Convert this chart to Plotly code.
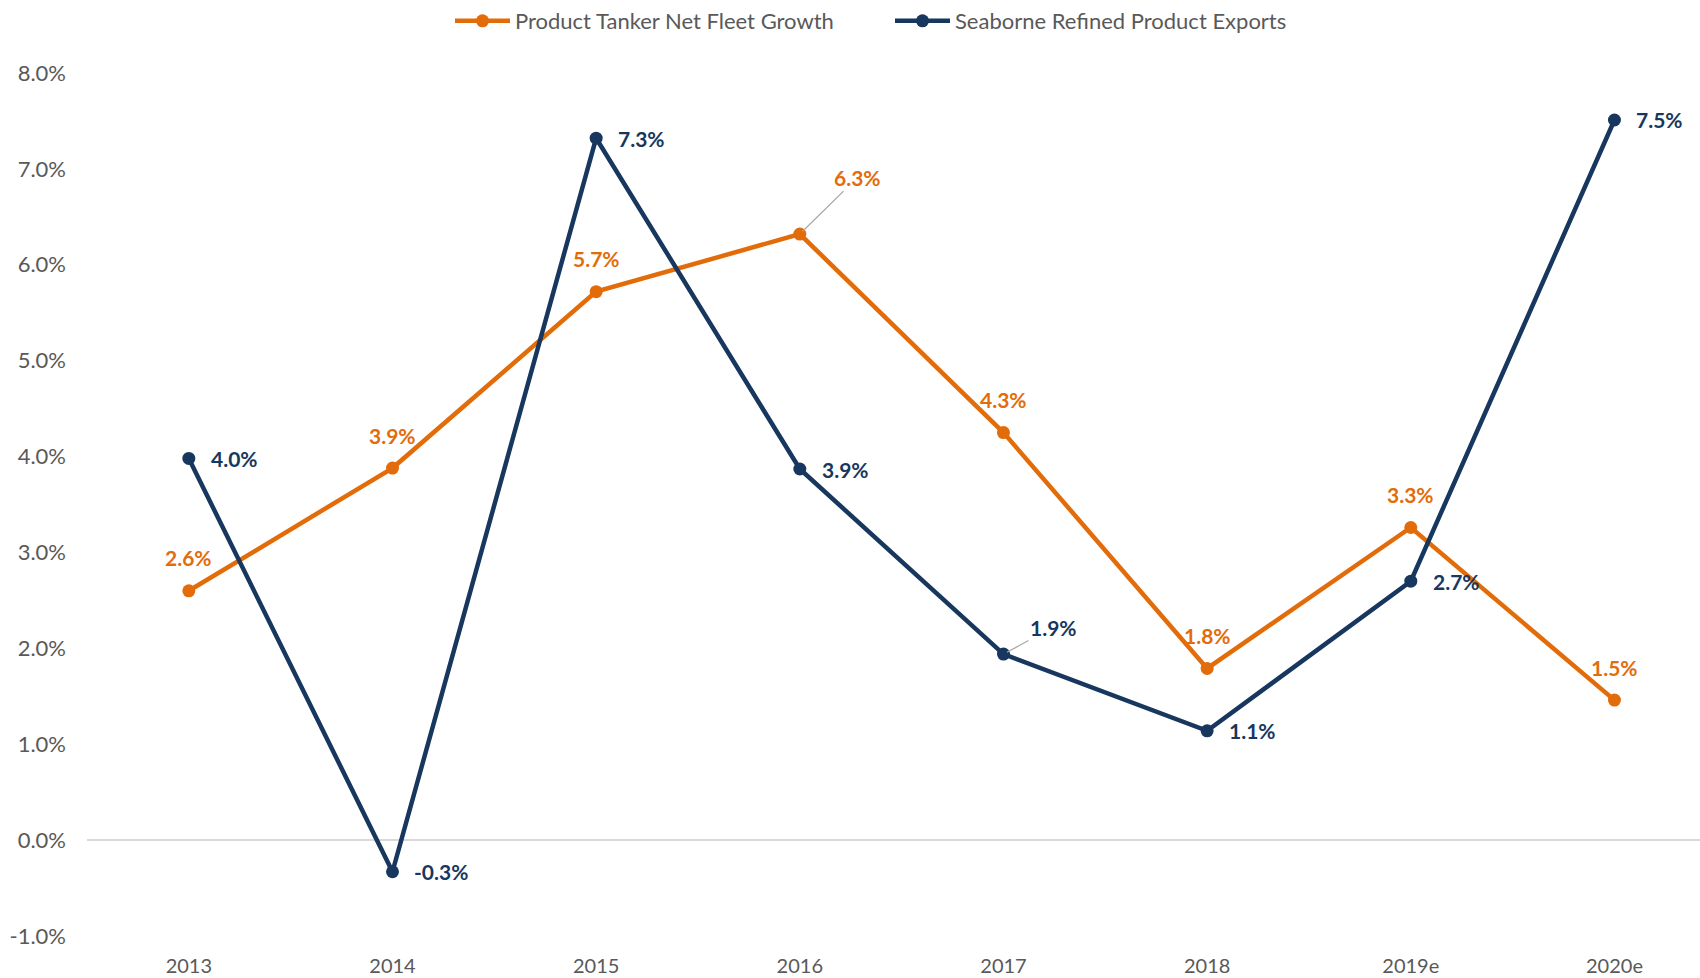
import plotly.graph_objects as go

years = ["2013", "2014", "2015", "2016", "2017", "2018", "2019e", "2020e"]
fleet_growth = [0.026, 0.039, 0.057, 0.063, 0.043, 0.018, 0.033, 0.015]
exports = [0.040, -0.003, 0.073, 0.039, 0.019, 0.011, 0.027, 0.075]
fleet_plot = [0.0260, 0.0388, 0.0572, 0.0632, 0.0425, 0.0179, 0.0326, 0.0146]
exports_plot = [0.0398, -0.0033, 0.0732, 0.0387, 0.0194, 0.0114, 0.0270, 0.0751]
y_tick_vals = [-0.01, 0.0, 0.01, 0.02, 0.03, 0.04, 0.05, 0.06, 0.07, 0.08]
y_tick_text = ["-1.0%", "0.0%", "1.0%", "2.0%", "3.0%", "4.0%", "5.0%", "6.0%", "7.0%", "8.0%"]

ORANGE = "#E36C0A"
NAVY = "#17375E"
FONT = "Lato, 'Open Sans', sans-serif"
LBL = 21

fig = go.Figure()
fig.add_trace(go.Scatter(
    x=list(range(len(years))), y=fleet_plot, mode="lines+markers",
    name="Product Tanker Net Fleet Growth",
    line=dict(color=ORANGE, width=4.5), marker=dict(size=13, color=ORANGE),
))
fig.add_trace(go.Scatter(
    x=list(range(len(years))), y=exports_plot, mode="lines+markers",
    name="Seaborne Refined Product Exports",
    line=dict(color=NAVY, width=4.5), marker=dict(size=13, color=NAVY),
))

annotations = []
for i, (v, yv) in enumerate(zip(fleet_growth, fleet_plot)):
    txt = f"{v*100:.1f}%"
    if i == 3:
        annotations.append(dict(x=i, y=yv, text=txt, showarrow=True, arrowhead=0,
                                arrowwidth=1.2, arrowcolor="#A6A6A6", ax=58, ay=-57,
                                standoff=4,
                                font=dict(family=FONT, size=LBL, color=ORANGE, weight="bold")))
    else:
        annotations.append(dict(x=i, y=yv, text=txt, showarrow=False, yshift=33,
                                xanchor="center", yanchor="middle",
                                font=dict(family=FONT, size=LBL, color=ORANGE, weight="bold")))
for i, (v, yv) in enumerate(zip(exports, exports_plot)):
    txt = f"{v*100:.1f}%"
    if i == 4:
        annotations.append(dict(x=i, y=yv, text=txt, showarrow=True, arrowhead=0,
                                arrowwidth=1.2, arrowcolor="#A6A6A6", ax=50, ay=-27,
                                standoff=4,
                                font=dict(family=FONT, size=LBL, color=NAVY, weight="bold")))
    else:
        annotations.append(dict(x=i, y=yv, text=txt, showarrow=False, xshift=20,
                                xanchor="left", yanchor="middle",
                                font=dict(family=FONT, size=LBL, color=NAVY, weight="bold")))

fig.update_layout(
    width=1700, height=978,
    margin=dict(l=87, r=0, t=72, b=42),
    paper_bgcolor="white", plot_bgcolor="white",
    font=dict(family=FONT, size=21, color="#595959"),
    showlegend=True,
    legend=dict(orientation="h", x=(450 - 87) / 1613, xanchor="left", y=1.06, yanchor="middle",
                font=dict(size=22, color="#595959"), itemwidth=55, tracegroupgap=0,
                entrywidth=370, entrywidthmode="pixels"),
    annotations=annotations,
)
fig.update_xaxes(
    tickmode="array", tickvals=list(range(len(years))), ticktext=years,
    range=[-0.5, 7.42], showgrid=False, zeroline=False, showline=False, automargin=False,
    ticks="", ticklabelstandoff=16, tickfont=dict(size=20, color="#595959"),
)
fig.update_yaxes(
    range=[-0.01, 0.08], tickmode="array", tickvals=y_tick_vals, ticktext=y_tick_text,
    showgrid=False, zeroline=True, zerolinecolor="#D9D9D9", zerolinewidth=1.5, showline=False,
    automargin=False,
    ticks="", ticklabelstandoff=20, tickfont=dict(size=22, color="#595959"),
)

fig.write_html("out.html", config={"displayModeBar": False},
               post_script="document.body.style.margin='0';document.body.style.padding='0';")
